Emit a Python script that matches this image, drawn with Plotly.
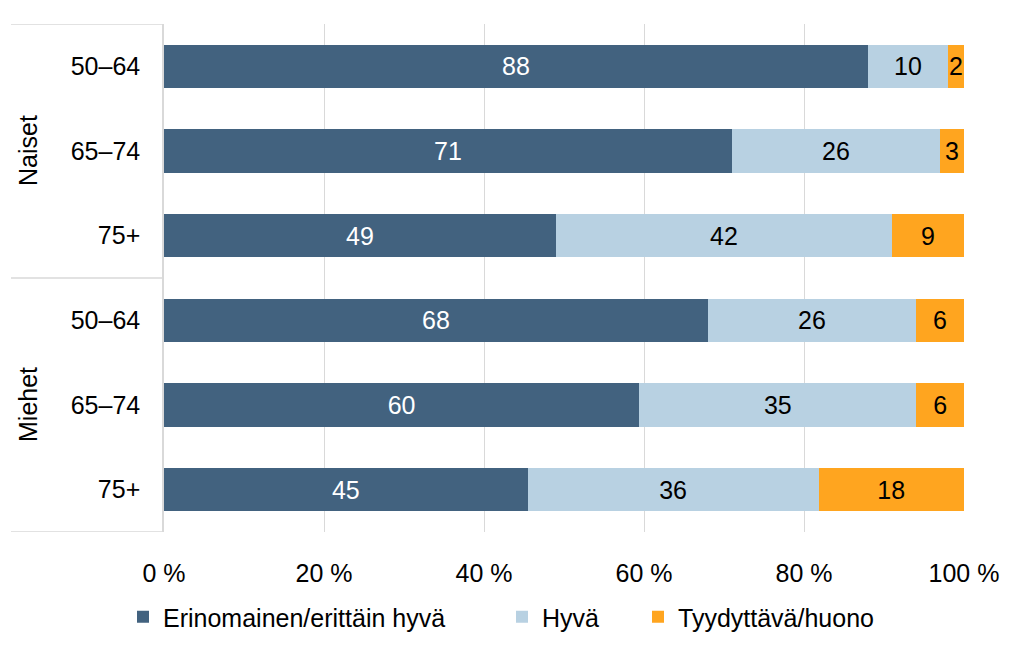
import plotly.graph_objects as go

groups = ["Naiset", "Miehet"]
ages = ["50–64", "65–74", "75+", "50–64", "65–74", "75+"]
series_names = ["Erinomainen/erittäin hyvä", "Hyvä", "Tyydyttävä/huono"]
excellent = [88, 71, 49, 68, 60, 45]
good = [10, 26, 42, 26, 35, 36]
poor = [2, 3, 9, 6, 6, 18]
colors = ["#42627F", "#B8D1E2", "#FFA51F"]
text_colors = ["white", "black", "black"]
x_ticks = [0, 20, 40, 60, 80, 100]

FONT = "Liberation Sans"
FS = 25
ypos = list(range(len(ages)))
OFF = 8  # page body margin
W, H = 1024, 652
legend_ids = ["legend", "legend2", "legend3"]
legend_sym_x = [135, 514, 650]  # screen x of legend boxes (calibrated)

fig = go.Figure()
for name, vals, col, tcol, lid in zip(series_names, [excellent, good, poor], colors, text_colors, legend_ids):
    fig.add_trace(go.Bar(
        y=ypos, x=vals, orientation="h", name=name, legend=lid,
        marker=dict(color=col, line=dict(width=0)),
        text=[str(v) for v in vals], textposition="inside",
        insidetextanchor="middle",
        textfont=dict(color=tcol, size=FS, family=FONT),
        hoverinfo="skip",
    ))

legend_common = dict(orientation="h", xref="container", xanchor="left",
                     yref="container", yanchor="middle", y=(H - (617 - OFF)) / H,
                     font=dict(size=FS, family=FONT), itemwidth=30,
                     bgcolor="rgba(0,0,0,0)")
layout_legends = {}
for lid, sx in zip(legend_ids, legend_sym_x):
    layout_legends[lid] = dict(legend_common, x=(sx - OFF - 12) / W)

fig.update_layout(
    barmode="stack", barnorm="percent", bargap=0.49,
    width=W, height=H,
    margin=dict(l=164 - OFF, r=W - (964 - OFF), t=24 - OFF, b=H - (532 - OFF), autoexpand=False),
    paper_bgcolor="white", plot_bgcolor="white",
    font=dict(family=FONT, size=FS, color="#000000"),
    uniformtext=dict(minsize=FS, mode="show"),
    showlegend=True,
    **layout_legends,
)

fig.update_xaxes(range=[0, 100], tickvals=x_ticks, ticktext=[f"{t} %" for t in x_ticks],
                 showgrid=True, gridcolor="#D9D9D9", gridwidth=1, zeroline=False,
                 showline=False, ticks="", ticklabelstandoff=24, automargin=False,
                 tickfont=dict(size=FS, family=FONT))
fig.update_yaxes(range=[len(ages) - 0.5, -0.5], tickvals=ypos, ticktext=ages,
                 showgrid=False, zeroline=False, showline=True, linecolor="#D9D9D9",
                 linewidth=1.5, ticks="", ticklabelstandoff=17, automargin=False,
                 tickfont=dict(size=FS, family=FONT))

# group separator lines extending into the left margin
left = (11 - 164) / 800
for yv in [-0.5, 2.5, 5.5]:
    fig.add_shape(type="line", xref="paper", yref="y", x0=left, x1=0, y0=yv, y1=yv,
                  line=dict(color="#D9D9D9", width=1.5))

for i, g in enumerate(groups):
    fig.add_annotation(text=g, xref="paper", yref="y", x=(28 - 164) / 800, y=1 + 3 * i,
                       xanchor="center", yanchor="middle",
                       showarrow=False, textangle=-90,
                       font=dict(size=FS, family=FONT, color="black"))

fig.write_html("out.html")
